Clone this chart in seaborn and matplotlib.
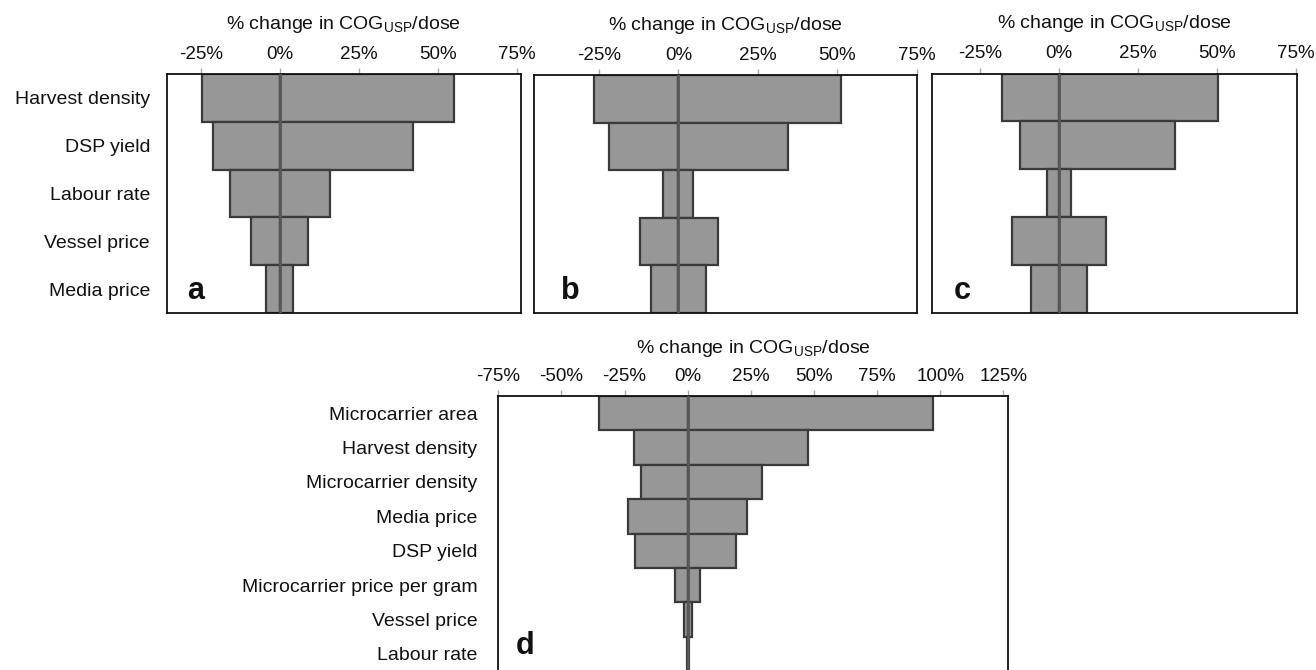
import matplotlib
matplotlib.use("Agg")
import matplotlib.pyplot as plt
import seaborn as sns

# Tornado-chart data: % change in COG_USP/dose for low / high parameter values
factors_abc = ["Harvest density", "DSP yield", "Labour rate", "Vessel price", "Media price"]

a_low = [-24.8, -21.2, -16.0, -9.2, -4.6]
a_high = [55.2, 42.2, 15.8, 8.9, 4.1]

b_low = [-26.5, -21.7, -4.9, -12.1, -8.7]
b_high = [51.1, 34.4, 4.5, 12.4, 8.7]

c_low = [-18.1, -12.3, -3.9, -15.1, -9.0]
c_high = [50.3, 36.7, 3.9, 14.7, 8.7]

factors_d = ["Microcarrier area", "Harvest density", "Microcarrier density", "Media price",
             "DSP yield", "Microcarrier price per gram", "Vessel price", "Labour rate"]
d_low = [-35.2, -21.1, -18.3, -23.7, -20.7, -5.2, -1.6, -0.3]
d_high = [97.1, 47.8, 29.3, 23.4, 19.2, 4.8, 1.8, 0.5]

ticks_abc = [-25, 0, 25, 50, 75]
ticks_d = [-75, -50, -25, 0, 25, 50, 75, 100, 125]

axis_title = r"% change in COG$_{\mathrm{USP}}$/dose"

BAR = "#979797"
EDGE = "#3a3a3a"
ZERO = "#585858"

sns.set_theme(style="white")
plt.rcParams["font.family"] = ["Liberation Sans", "DejaVu Sans"]
plt.rcParams["mathtext.fontset"] = "custom"
plt.rcParams["mathtext.rm"] = "Liberation Sans"
plt.rcParams["mathtext.it"] = "Liberation Sans:italic"
plt.rcParams["mathtext.bf"] = "Liberation Sans:bold"

W, H = 1316, 670
fig = plt.figure(figsize=(W / 100, H / 100), dpi=100)


def px_axes(left, right, top, bottom):
    return fig.add_axes([left / W, (H - bottom) / H, (right - left) / W, (bottom - top) / H])


def tornado(ax, cats, low, high, xlim, ticks, letter, letter_x, show_labels, ypad, tpad):
    for vals in (low, high):
        sns.barplot(x=vals, y=cats, order=cats, orient="h", color=BAR, saturation=1,
                    width=1.0, edgecolor=EDGE, linewidth=1.6, errorbar=None, ax=ax)
    ax.axvline(0, color=ZERO, lw=2.0, zorder=4)
    ax.set_xlim(*xlim)
    ax.set_ylim(len(cats) - 0.5, -0.5)
    ax.xaxis.tick_top()
    ax.xaxis.set_label_position("top")
    ax.set_xticks(ticks)
    ax.set_xticklabels([f"{t}%" for t in ticks])
    ax.tick_params(axis="x", top=True, bottom=False, length=4, width=1,
                   color="#a8a8a8", pad=4, labelsize=13.5, labelcolor="#111111")
    ax.set_xlabel(axis_title, fontsize=14, labelpad=tpad, color="#111111")
    ax.set_ylabel("")
    if show_labels:
        ax.tick_params(axis="y", left=False, length=0, pad=ypad, labelsize=14,
                       labelcolor="#111111")
    else:
        ax.tick_params(axis="y", left=False, labelleft=False)
    for sp in ax.spines.values():
        sp.set_visible(True)
        sp.set_color("#111111")
        sp.set_linewidth(1.3)
    ax.text(letter_x, 0.06, letter, transform=ax.transAxes, fontsize=22,
            fontweight="bold", va="baseline", ha="left", color="#111111")


ax_a = px_axes(166.7, 521, 74, 313)
tornado(ax_a, factors_abc, a_low, a_high, (-36, 76.3), ticks_abc, "a", 0.058, True, 12, 12.5)

ax_b = px_axes(534.3, 917, 75, 313)
tornado(ax_b, factors_abc, b_low, b_high, (-45.3, 75), ticks_abc, "b", 0.07, False, 12, 12.5)

ax_c = px_axes(931.7, 1296.7, 73.5, 313)
tornado(ax_c, factors_abc, c_low, c_high, (-40.4, 75.3), ticks_abc, "c", 0.06, False, 12, 12.5)

ax_d = px_axes(498.3, 1008.3, 396, 671)
tornado(ax_d, factors_d, d_low, d_high, (-74, 127), ticks_d, "d", 0.034, True, 15, 10.5)

fig.savefig("out.png", dpi=100)
